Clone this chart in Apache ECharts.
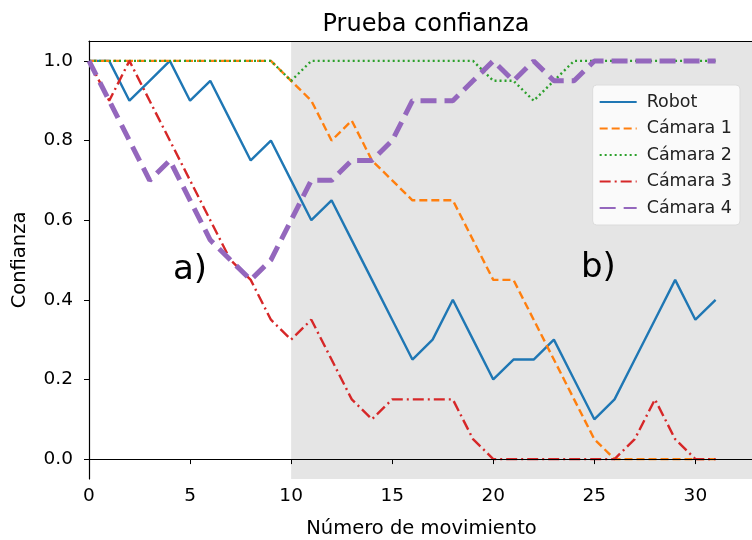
<!DOCTYPE html>
<html>
<head>
<meta charset="utf-8">
<script src="https://cdn.jsdelivr.net/npm/echarts@6/dist/echarts.min.js"></script>
<style>
html,body{margin:0;padding:0;background:#fff}
#main{width:752px;height:540px}
</style>
</head>
<body>
<div id="main"></div>
<script>
var movimientos = [0,1,2,3,4,5,6,7,8,9,10,11,12,13,14,15,16,17,18,19,20,21,22,23,24,25,26,27,28,29,30,31];
var robot   = [1.0,1.0,0.9,0.95,1.0,0.9,0.95,0.85,0.75,0.8,0.7,0.6,0.65,0.55,0.45,0.35,0.25,0.3,0.4,0.3,0.2,0.25,0.25,0.3,0.2,0.1,0.15,0.25,0.35,0.45,0.35,0.4];
var camara1 = [1,1,1,1,1,1,1,1,1,1,0.95,0.9,0.8,0.85,0.75,0.7,0.65,0.65,0.65,0.55,0.45,0.45,0.35,0.25,0.15,0.05,0,0,0,0,0,0];
var camara2 = [1,1,1,1,1,1,1,1,1,1,0.95,1,1,1,1,1,1,1,1,1,0.95,0.95,0.9,0.95,1,1,1,1,1,1,1,1];
var camara3 = [1.0,0.9,1.0,0.9,0.8,0.7,0.6,0.5,0.45,0.35,0.3,0.35,0.25,0.15,0.1,0.15,0.15,0.15,0.15,0.05,0,0,0,0,0,0,0,0.05,0.15,0.05,0,0];
var camara4 = [1.0,0.9,0.8,0.7,0.75,0.65,0.55,0.5,0.45,0.5,0.6,0.7,0.7,0.75,0.75,0.8,0.9,0.9,0.9,0.95,1.0,0.95,1.0,0.95,0.95,1,1,1,1,1,1,1];
var nombres = ['Robot', 'Cámara 1', 'Cámara 2', 'Cámara 3', 'Cámara 4'];
var xTicks = [0, 5, 10, 15, 20, 25, 30];
var yTicks = [0, 0.2, 0.4, 0.6, 0.8, 1.0];
var zonaInicio = 10;
var zonaFin = 32.9;
var etiquetas = ['a)', 'b)'];
var etiquetaX = [5.0, 25.2];
var etiquetaY = [0.475, 0.48];

var FONT = '"DejaVu Sans", sans-serif';
var chart = echarts.init(document.getElementById('main'), null, {renderer: 'canvas'});

function pares(vals) {
  return movimientos.map(function (x, i) { return [x, vals[i]]; });
}

var estilos = [
  {color: '#1f77b4', width: 2.4, type: 'solid'},
  {color: '#ff7f0e', width: 2.4, type: [8, 4]},
  {color: '#2ca02c', width: 2.4, type: [2, 3]},
  {color: '#d62728', width: 2.4, type: [11, 4, 2, 4]},
  {color: '#9467bd', width: 5, type: [16, 8]}
];
var valores = [robot, camara1, camara2, camara3, camara4];

var series = valores.map(function (v, i) {
  return {
    name: nombres[i],
    type: 'line',
    data: pares(v),
    symbol: 'none',
    legendIcon: 'none',
    z: 2 + i,
    lineStyle: {color: estilos[i].color, width: estilos[i].width, type: estilos[i].type, cap: 'butt'},
    itemStyle: {color: estilos[i].color}
  };
});

// zona gris b)
series[0].markArea = {
  silent: true,
  itemStyle: {color: '#e5e5e5'},
  data: [[{xAxis: zonaInicio}, {xAxis: zonaFin}]]
};

// textos a) y b)
series[0].markPoint = {
  silent: true,
  symbol: 'circle',
  symbolSize: 0,
  label: {show: true, position: 'inside', color: '#000', fontSize: 34, fontFamily: FONT,
          formatter: function (p) { return p.name; }},
  data: etiquetas.map(function (t, i) { return {name: t, coord: [etiquetaX[i], etiquetaY[i]]}; })
};

var option = {
  animation: false,
  backgroundColor: '#fff',
  title: {
    text: 'Prueba confianza',
    left: 421,
    textAlign: 'center',
    top: 8,
    textStyle: {fontFamily: FONT, fontSize: 24, fontWeight: 'normal', color: '#000'}
  },
  legend: {
    data: nombres,
    orient: 'vertical',
    right: 12,
    top: 85,
    itemWidth: 37,
    itemHeight: 14,
    itemGap: 8.5,
    padding: [8, 8, 8, 6],
    backgroundColor: 'rgba(255,255,255,0.8)',
    borderColor: '#dcdcdc',
    borderWidth: 1,
    borderRadius: 4,
    selectedMode: false,
    itemStyle: {opacity: 0},
    textStyle: {fontFamily: FONT, fontSize: 17.5, color: '#222', padding: [0, 0, 0, 5]}
  },
  grid: {left: 89, right: -2, top: 41, bottom: 61, outerBoundsMode: 'none', containLabel: false},
  xAxis: [{
    type: 'value',
    min: 0,
    max: zonaFin,
    z: 6,
    name: 'Número de movimiento',
    nameLocation: 'middle',
    nameGap: 40,
    nameTextStyle: {fontFamily: FONT, fontSize: 19.5, color: '#000'},
    axisLine: {lineStyle: {color: '#000', width: 1.2}},
    axisTick: {show: true, length: 5, lineStyle: {color: '#000'}, customValues: xTicks},
    axisLabel: {fontFamily: FONT, fontSize: 18.5, color: '#000', margin: 8, customValues: xTicks},
    splitLine: {show: false}
  }, {
    type: 'value',
    position: 'top',
    min: 0,
    max: zonaFin,
    z: 6,
    axisLine: {show: true, lineStyle: {color: '#000', width: 1.2}},
    axisTick: {show: false},
    axisLabel: {show: false},
    splitLine: {show: false}
  }],
  yAxis: {
    type: 'value',
    min: -0.05,
    max: 1.05,
    z: 6,
    name: 'Confianza',
    nameLocation: 'middle',
    nameGap: 59,
    nameTextStyle: {fontFamily: FONT, fontSize: 19.5, color: '#000'},
    axisLine: {show: true, lineStyle: {color: '#000', width: 1.2}},
    axisTick: {show: true, length: 5, lineStyle: {color: '#000'}, customValues: yTicks},
    axisLabel: {fontFamily: FONT, fontSize: 18.5, color: '#000', margin: 16, customValues: yTicks,
                formatter: function (v) { return v.toFixed(1); }},
    splitLine: {show: false}
  },
  series: series
};

chart.setOption(option);
</script>
</body>
</html>
